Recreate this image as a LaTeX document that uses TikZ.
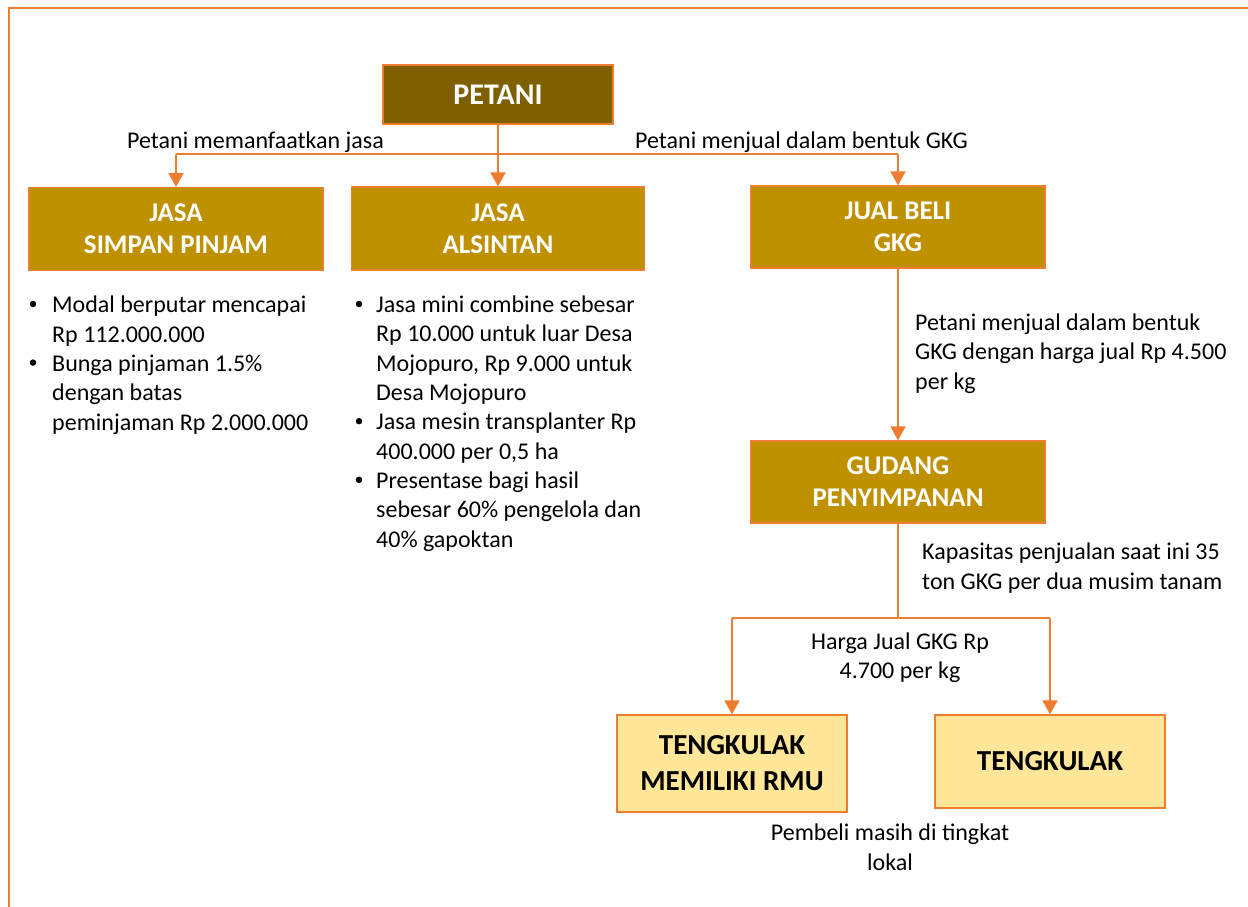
\documentclass[tikz,border=0pt]{standalone}
\usepackage{fontspec}
\setmainfont{Carlito}
\usetikzlibrary{arrows.meta}
\definecolor{orng}{HTML}{ED7D31}
\definecolor{olivebox}{HTML}{7F6000}
\definecolor{goldbox}{HTML}{BF9000}
\definecolor{lightgold}{HTML}{FFE699}
\begin{document}
\begin{tikzpicture}[x=1pt,y=-1pt,
  goldnode/.style={draw=orng, line width=1.2pt, fill=goldbox, text=white,
    font=\bfseries\fontsize{27}{32}\selectfont, align=center, inner sep=0pt,
    minimum width=294pt, minimum height=83pt},
  topnode/.style={goldnode, fill=olivebox, font=\bfseries\fontsize{30}{34}\selectfont,
    minimum width=230pt, minimum height=59pt},
  buyer/.style={draw=orng, line width=1.2pt, fill=lightgold, text=black,
    font=\bfseries\fontsize{29}{36}\selectfont, align=center, inner sep=0pt,
    minimum width=230pt, minimum height=95pt},
  txt/.style={font=\fontsize{24}{29.3}\selectfont, inner sep=0pt, align=left, anchor=base west},
  ctxt/.style={font=\fontsize{24}{29.3}\selectfont, inner sep=0pt, align=center, anchor=base},
  bul/.style={circle, fill=black, inner sep=0pt, minimum size=6.5pt},
  conn/.style={draw=orng, line width=1.6pt},
  arr/.style={conn, -{Triangle[length=14pt,width=15pt]}}
]
\useasboundingbox (0,0) rectangle (1248,907);
\draw[orng, line width=2.5pt] (9,8) rectangle (1265,925);

% boxes
\node[topnode] (petani) at (498,94.5) {PETANI};
\node[goldnode] (simpan) at (176,229) {JASA\\SIMPAN PINJAM};
\node[goldnode, minimum width=293pt] (alsintan) at (498,228.5) {JASA\\ALSINTAN};
\node[goldnode, minimum height=82pt] (jual) at (898,227) {JUAL BELI\\GKG};
\node[goldnode, minimum height=82pt] (gudang) at (898,482) {GUDANG\\PENYIMPANAN};
\node[buyer, minimum height=97pt] (rmu) at (732,763.5) {TENGKULAK\\MEMILIKI RMU};
\node[buyer, minimum height=93pt] (tengkulak) at (1050,761.5) {TENGKULAK};

% connectors top
\coordinate (jn) at (498,154);
\coordinate (jl) at (176,154);
\coordinate (jr) at (898,154);
\draw[conn] (petani.south) -- (jn);
\draw[conn] (jl) -- (jr);
\draw[arr] (jl) -- (simpan.north);
\draw[arr] (jn) -- (alsintan.north);
\draw[arr] (jr) -- (jual.north);
\draw[arr] (jual.south) -- (gudang.north);
% bottom fork
\coordinate (jb) at (898,618);
\coordinate (jbl) at (732,618);
\coordinate (jbr) at (1050,618);
\draw[conn] (gudang.south) -- (jb);
\draw[conn] (jbl) -- (jbr);
\draw[arr] (jbl) -- (rmu.north);
\draw[arr] (jbr) -- (tengkulak.north);

% labels (base anchor = baseline of the last line)
\node[txt] (l1) at (127,148) {Petani memanfaatkan jasa};
\node[txt] (l2) at (635,148) {Petani menjual dalam bentuk GKG};
\node[txt] (l3) at (915,389) {Petani menjual dalam bentuk\\GKG dengan harga jual Rp 4.500\\per kg};
\node[txt] (l4) at (922,589) {Kapasitas penjualan saat ini 35\\ton GKG per dua musim tanam};
\node[ctxt] (l5) at (900,678.5) {Harga Jual GKG Rp\\4.700 per kg};
\node[ctxt] (l6) at (890,870) {Pembeli masih di tingkat\\lokal};

% left bullets
\node[bul] (lb1) at (33,304) {};
\node[txt] (lt1) at (52,342) {Modal berputar mencapai\\Rp 112.000.000};
\node[bul] (lb2) at (33,362.6) {};
\node[txt] (lt2) at (52,430) {Bunga pinjaman 1.5\%\\dengan batas\\peminjaman Rp 2.000.000};

% right bullets
\node[bul] (rb1) at (359,304) {};
\node[txt] (rt1) at (376,400.5) {Jasa mini combine sebesar\\Rp 10.000 untuk luar Desa\\Mojopuro, Rp 9.000 untuk\\Desa Mojopuro};
\node[bul] (rb2) at (359,421.2) {};
\node[txt] (rt2) at (376,459) {Jasa mesin transplanter Rp\\400.000 per 0,5 ha};
\node[bul] (rb3) at (359,479.8) {};
\node[txt] (rt3) at (376,547) {Presentase bagi hasil\\sebesar 60\% pengelola dan\\40\% gapoktan};
\end{tikzpicture}
\end{document}
